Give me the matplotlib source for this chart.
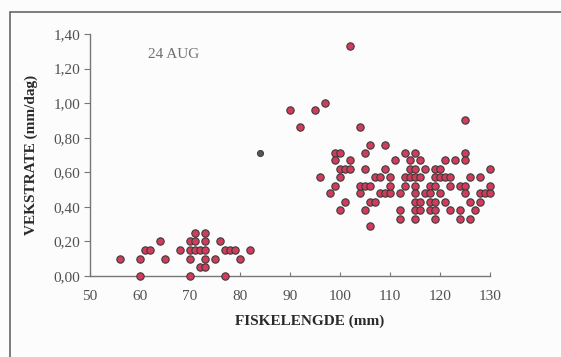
import matplotlib.pyplot as plt
from matplotlib.patches import Rectangle
from matplotlib.ticker import FuncFormatter

# fish length (mm) and growth rate (mm/day)
small_len = [56, 60, 60, 61, 62, 64, 65, 68, 70, 70, 70, 70, 71, 71, 71, 72,
             72, 73, 73, 73, 73, 73, 75, 76, 77, 77, 78, 79, 80, 82]
small_rate = [0.10, 0.10, 0.00, 0.15, 0.15, 0.20, 0.10, 0.15, 0.20, 0.10, 0.00, 0.15,
              0.25, 0.20, 0.15, 0.15, 0.05, 0.05, 0.25, 0.20, 0.15, 0.10, 0.10,
              0.20, 0.15, 0.00, 0.15, 0.15, 0.10, 0.15]

big_len = [90, 92, 95, 97, 102, 96, 98, 99, 99, 100, 99, 100, 101, 102, 100,
           100, 101, 102, 104, 104, 104, 105, 106, 105, 105, 105, 106, 106, 107,
           106, 107, 108, 108, 109, 110, 109, 109, 110, 110, 111, 112, 112, 112,
           113, 113, 114, 115, 116, 113, 114, 114,
           115, 115, 115, 115, 115, 115, 115, 116, 116, 116, 117, 117,
           118, 118, 118, 118, 119, 119, 119, 119, 119, 119,
           120, 121, 122, 120, 120, 121, 121, 122, 122, 123, 124, 125, 124, 124,
           125, 125, 125, 125, 126, 126, 126, 127, 128, 128, 128, 129, 130, 130, 130]
big_rate = [0.96, 0.86, 0.96, 1.00, 1.33, 0.57, 0.48, 0.52, 0.71, 0.71, 0.67, 0.62,
            0.62, 0.62, 0.57, 0.38, 0.43, 0.67, 0.86, 0.48, 0.52, 0.52, 0.52, 0.71,
            0.62, 0.38, 0.76, 0.43, 0.43, 0.29, 0.57, 0.57, 0.48, 0.48, 0.48, 0.76,
            0.62, 0.57, 0.52, 0.67, 0.48, 0.38, 0.33,
            0.71, 0.57, 0.57, 0.57, 0.57, 0.52, 0.67, 0.62,
            0.71, 0.62, 0.52, 0.48, 0.43, 0.38, 0.33, 0.67, 0.43, 0.38, 0.62, 0.48,
            0.52, 0.48, 0.43, 0.38, 0.62, 0.57, 0.52, 0.43, 0.38, 0.33,
            0.57, 0.57, 0.57, 0.62, 0.48, 0.67, 0.43, 0.52, 0.38, 0.67, 0.52, 0.52,
            0.38, 0.33, 0.90, 0.71, 0.67, 0.48, 0.57, 0.43, 0.33, 0.38, 0.57, 0.43,
            0.48, 0.48, 0.48, 0.62, 0.52]

odd_len = [84]
odd_rate = [0.71]

xticks = [50, 60, 70, 80, 90, 100, 110, 120, 130]
yticks = [0.0, 0.2, 0.4, 0.6, 0.8, 1.0, 1.2, 1.4]

plt.rcParams['font.family'] = ['Liberation Serif', 'DejaVu Serif']

fig = plt.figure(figsize=(5.61, 3.57), dpi=100)
fig.patch.set_facecolor('#fcfcfc')

# scanned page frame (only top and left edges are visible)
fig.patches.append(Rectangle((10 / 561, -0.05), 1.0, 1 - 12 / 357 + 0.05,
                             transform=fig.transFigure, fill=False,
                             edgecolor='#666666', linewidth=1.2))

ax = fig.add_axes([90 / 561, 1 - 276 / 357, 400 / 561, 242 / 357])
ax.set_facecolor('none')

dot = dict(s=28, edgecolors='#3a3a3a', linewidths=0.8, clip_on=False, zorder=3)
ax.scatter(small_len, small_rate, color='#d13c5c', **dot)
ax.scatter(big_len, big_rate, color='#d13c5c', **dot)
ax.scatter(odd_len, odd_rate, color='#555555', s=20, edgecolors='#333333',
           linewidths=0.6, zorder=3)

ax.set_xlim(50, 130)
ax.set_ylim(0, 1.4)
ax.set_xticks(xticks)
ax.set_yticks(yticks)
ax.yaxis.set_major_formatter(FuncFormatter(lambda v, p: f"{v:.2f}".replace('.', ',')))

for s in ['top', 'right']:
    ax.spines[s].set_visible(False)
for s in ['left', 'bottom']:
    ax.spines[s].set_color('#777777')
    ax.spines[s].set_linewidth(1.0)

ax.tick_params(axis='y', direction='out', length=4, pad=3, color='#777777',
               labelsize=11, labelcolor='#505050')
ax.tick_params(axis='x', direction='in', length=3, pad=10, color='#777777',
               labelsize=11, labelcolor='#505050')

ax.set_xlabel('FISKELENGDE (mm)', fontsize=11, fontweight='bold', color='#2a2a2a')
ax.xaxis.set_label_coords(0.55, -0.16)
ax.set_ylabel('VEKSTRATE (mm/dag)', fontsize=11, fontweight='bold', color='#2a2a2a')
ax.yaxis.set_label_coords(-0.13, 0.5)

ax.text(61.5, 1.28, '24 AUG', fontsize=11, color='#707070', va='center')

fig.savefig('out.png', dpi=100, facecolor=fig.get_facecolor())
